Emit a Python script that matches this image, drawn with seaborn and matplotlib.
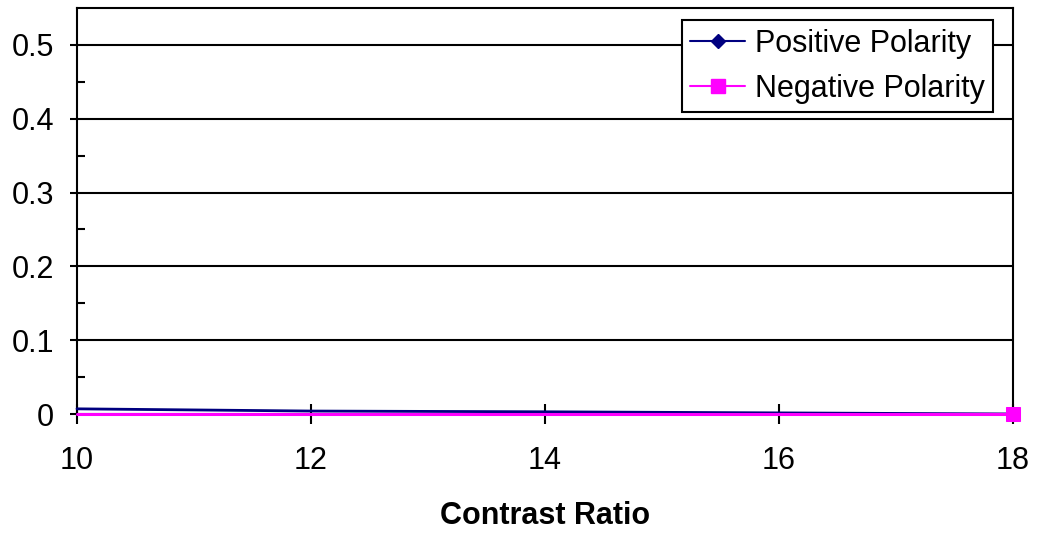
import numpy as np
import pandas as pd
import matplotlib
matplotlib.use("Agg")
import matplotlib.pyplot as plt
from matplotlib.ticker import FixedLocator
from matplotlib.lines import Line2D
import seaborn as sns

# Data
contrast_ratio = [10, 12, 14, 16, 18]
positive_polarity = [0.007, 0.004, 0.003, 0.0015, 0.0]
negative_polarity = [0.0, 0.0, 0.0, 0.0, 0.0]
y_ticks = [0, 0.1, 0.2, 0.3, 0.4, 0.5]
y_tick_labels = ["0", "0.1", "0.2", "0.3", "0.4", "0.5"]
y_minor_ticks = [0.05, 0.15, 0.25, 0.35, 0.45]
x_ticks = [10, 12, 14, 16, 18]

sns.set_style("white")
plt.rcParams["font.family"] = ["Liberation Sans", "DejaVu Sans"]
plt.rcParams["text.color"] = "black"
plt.rcParams["xtick.color"] = "black"
plt.rcParams["ytick.color"] = "black"
plt.rcParams["axes.labelcolor"] = "black"

FS = 22
W, H = 1039, 533
DIAMOND = 7.6
SQUARE = 9.5

df = pd.DataFrame({
    "Contrast Ratio": contrast_ratio * 2,
    "value": positive_polarity + negative_polarity,
    "series": ["Positive Polarity"] * len(contrast_ratio) + ["Negative Polarity"] * len(contrast_ratio),
})

fig = plt.figure(figsize=(W / 100, H / 100), dpi=100)
left_px, right_px, top_px, bottom_px = 77, 1013, 8, 414
ax = fig.add_axes([left_px / W, 1 - bottom_px / H, (right_px - left_px) / W, (bottom_px - top_px) / H])

# Horizontal grid lines under the series
for yv in y_ticks[1:]:
    ax.axhline(yv, color="black", lw=1.5, zorder=1)

last = [len(contrast_ratio) - 1]
sns.lineplot(data=df[df.series == "Positive Polarity"], x="Contrast Ratio", y="value",
             color="#000080", lw=2.0, marker="D", markersize=DIAMOND, markevery=last,
             markeredgecolor="#000080", ax=ax, zorder=3, clip_on=False, legend=False)
sns.lineplot(data=df[df.series == "Negative Polarity"], x="Contrast Ratio", y="value",
             color="#ff00ff", lw=2.2, marker="s", markersize=SQUARE, markevery=last,
             markeredgecolor="#ff00ff", ax=ax, zorder=4, clip_on=False, legend=False)

ax.set_xlim(10, 18)
ax.set_ylim(0, 0.55)

for s in ["left", "top", "right", "bottom"]:
    ax.spines[s].set_visible(True)
    ax.spines[s].set_color("black")
    ax.spines[s].set_linewidth(1.5)

ax.yaxis.set_major_locator(FixedLocator(y_ticks))
ax.set_yticklabels(y_tick_labels)
ax.yaxis.set_minor_locator(FixedLocator(y_minor_ticks))
ax.xaxis.set_major_locator(FixedLocator(x_ticks))
ax.set_xticklabels([str(v) for v in x_ticks])

ax.tick_params(axis="y", which="major", direction="out", length=5, width=1.5,
               labelsize=FS, pad=11.5, left=True)
ax.tick_params(axis="y", which="minor", direction="in", length=5.8, width=1.5, left=True)
ax.tick_params(axis="x", which="major", direction="inout", length=14.4, width=1.5,
               labelsize=FS, pad=15.5, bottom=True)

ax.set_ylabel("")
ax.set_xlabel("Contrast Ratio", fontsize=FS, fontweight="bold")
ax.xaxis.set_label_coords(0.5, (bottom_px - 501) / (bottom_px - top_px))

leg_handles = [
    Line2D([], [], color="#000080", lw=1.5, marker="D", markersize=DIAMOND),
    Line2D([], [], color="#ff00ff", lw=1.5, marker="s", markersize=SQUARE),
]
leg = ax.legend(leg_handles, ["Positive Polarity", "Negative Polarity"],
                loc="upper right",
                bbox_to_anchor=((993 - left_px) / (right_px - left_px), (bottom_px - 20) / (bottom_px - top_px)),
                borderaxespad=0, fontsize=FS, frameon=True, fancybox=False, framealpha=1,
                edgecolor="black", handlelength=1.8, handletextpad=0.3,
                borderpad=0.28, labelspacing=0.5)
leg.get_frame().set_linewidth(1.5)
leg.set_zorder(10)

fig.savefig("out.png", dpi=100, facecolor="white")
